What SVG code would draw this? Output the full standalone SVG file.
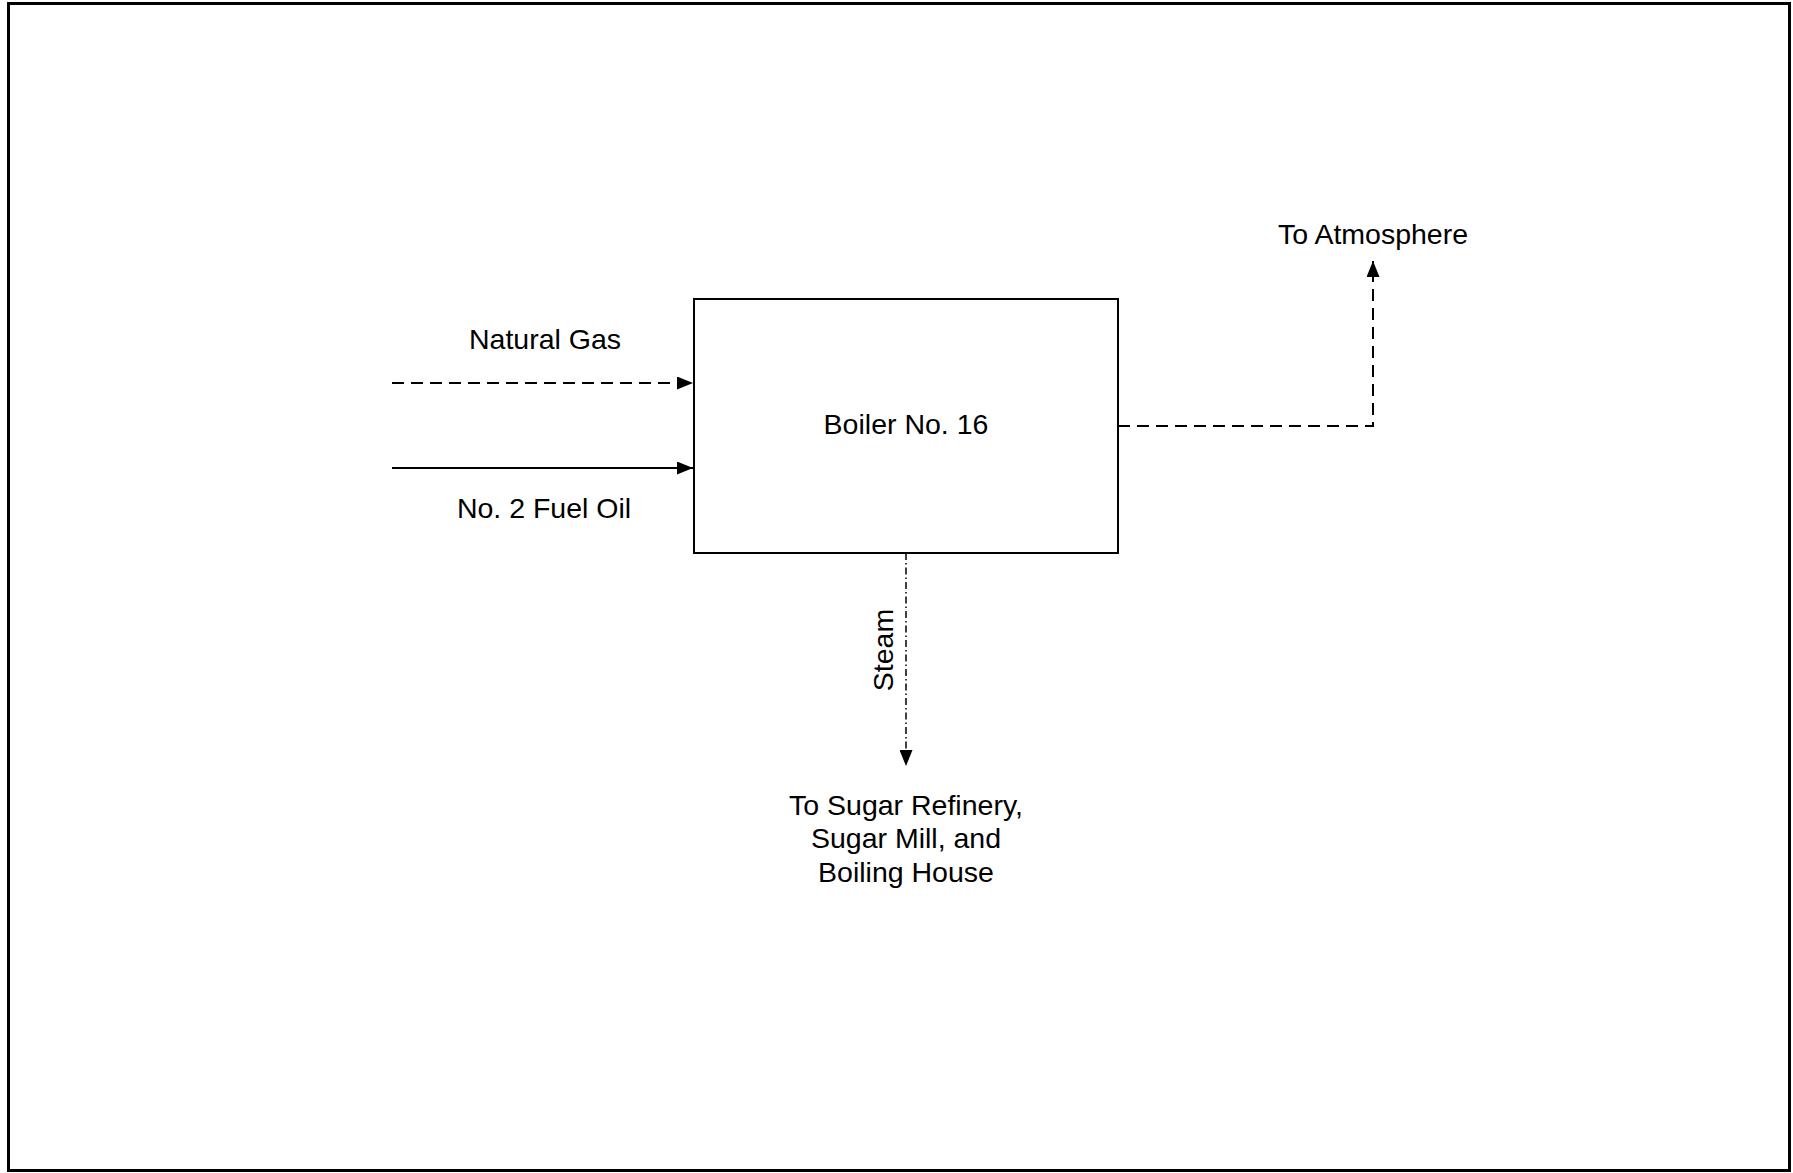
<svg xmlns="http://www.w3.org/2000/svg" width="1793" height="1173" viewBox="0 0 1793 1173">
<style>
text{font-family:"Liberation Sans",Arial,sans-serif;font-size:28.5px;fill:#000}
.ln{fill:none;stroke:#000;stroke-width:2}
.dash{stroke-dasharray:12 7}
.dd{stroke-dasharray:7 3 1.5 3;stroke-width:1.5}
</style>
<defs>
<marker id="ah" markerWidth="16" markerHeight="13" refX="16" refY="6.5" orient="auto" markerUnits="userSpaceOnUse">
<path d="M0,0 L16,6.5 L0,13 Z" fill="#000"/>
</marker>
</defs>
<rect x="0" y="0" width="1793" height="1173" fill="#fff"/>
<rect id="frame" x="8.5" y="3.5" width="1781" height="1167" fill="none" stroke="#000" stroke-width="3"/>
<g id="boiler">
<rect x="694" y="299" width="424" height="254" fill="none" stroke="#000" stroke-width="2"/>
<text x="906" y="434" text-anchor="middle">Boiler No. 16</text>
</g>
<g id="natural-gas-label"><text x="545" y="349" text-anchor="middle">Natural Gas</text></g>
<g id="fuel-oil-label"><text x="544" y="518" text-anchor="middle">No. 2 Fuel Oil</text></g>
<g id="atmosphere"><text x="1373" y="244" text-anchor="middle">To Atmosphere</text></g>
<g id="destination"><text x="906" y="815" text-anchor="middle">To Sugar Refinery,</text><text x="906" y="848" text-anchor="middle">Sugar Mill, and</text><text x="906" y="882" text-anchor="middle">Boiling House</text></g>
<g id="connectors">
<path class="ln dash" d="M392,383 H693" marker-end="url(#ah)"/>
<path class="ln" d="M392,468 H693" marker-end="url(#ah)"/>
<path class="ln dash" d="M1118,426 H1373 V261" marker-end="url(#ah)"/>
<path class="ln dd" d="M906,553 V766" marker-end="url(#ah)"/>
<text x="893" y="650" text-anchor="middle" transform="rotate(-90 893 650)">Steam</text>
</g>
</svg>
